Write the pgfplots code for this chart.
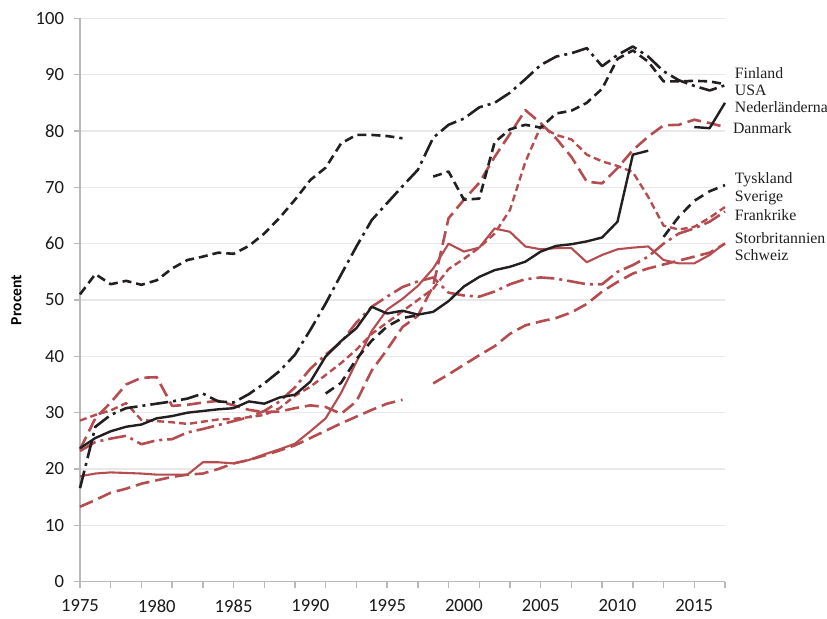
\documentclass[border=0pt]{standalone}
\usepackage{fontspec}
\setmainfont{Liberation Serif}
\newfontfamily\carlito{Carlito}
\usepackage{pgfplots}
\pgfplotsset{compat=1.18}
\definecolor{cblack}{RGB}{35,31,32}
\definecolor{cred}{RGB}{181,77,80}
\definecolor{gridc}{RGB}{232,232,232}
\definecolor{axc}{RGB}{185,185,185}
\begin{document}
\begin{tikzpicture}
\path[use as bounding box] (-40pt,-18.15pt) rectangle (373.5pt,290.85pt);
\begin{axis}[
  at={(0,0)}, anchor=south west,
  scale only axis, width=322.5pt, height=281.7pt,
  xmin=1975, xmax=2017, ymin=0, ymax=100,
  axis x line*=bottom, axis y line*=left,
  axis line style={draw=axc, line width=0.7pt},
  ytick={0,10,...,100}, ymajorgrids,
  grid style={draw=gridc, line width=0.7pt},
  xtick={1975,1977,...,2017}, xticklabels={},
  extra x ticks={1975,1980,...,2015},
  extra x tick labels={1975,1980,1985,1990,1995,2000,2005,2010,2015},
  extra x tick style={major tick length=0pt, grid=none},
  tick style={draw=axc, line width=0.7pt},
  major tick length=3pt, tick align=outside,
  tick label style={font=\carlito\fontsize{9.3}{10}\selectfont, text=black!90},
  xticklabel style={yshift=-5.5pt},
  yticklabel style={xshift=-1.5pt},
  /pgf/number format/assume math mode=true,
  /pgf/number format/1000 sep={},
  ylabel={Procent},
  ylabel style={font=\carlito\bfseries\fontsize{7.8}{9}\selectfont, at={(axis description cs:-0.0985,0.5)}, anchor=center},
  clip=false,
  unbounded coords=jump,
  every axis plot/.append style={line join=round, line cap=butt},
]
% Schweiz
\addplot[cred, line width=1.3pt, dash pattern=on 7pt off 3pt] coordinates {
(1975,13.3)(1976,14.5)(1977,15.8)(1978,16.5)(1979,17.4)(1980,18)(1981,18.6)(1982,19)(1983,19.2)(1984,20)
(1985,21)(1986,21.6)(1987,22.4)(1988,23.3)(1989,24.2)(1990,25.5)(1991,26.8)(1992,28.1)(1993,29.3)(1994,30.5)
(1995,31.6)(1996,32.3)(1997,nan)(1998,35.2)(1999,36.8)(2000,38.5)(2001,40.2)(2002,41.8)(2003,44)(2004,45.5)
(2005,46.2)(2006,46.8)(2007,47.8)(2008,49.3)(2009,51.5)(2010,53.2)(2011,54.7)(2012,55.6)(2013,56.3)(2014,57)
(2015,57.7)(2016,58.4)(2017,60)};
% Storbritannien
\addplot[cred, line width=1.05pt] coordinates {
(1975,18.7)(1976,19.2)(1977,19.4)(1978,19.3)(1979,19.2)(1980,19)(1981,19)(1982,19)(1983,21.2)(1984,21.2)
(1985,21)(1986,21.6)(1987,22.6)(1988,23.5)(1989,24.5)(1990,26.7)(1991,29)(1992,33.5)(1993,39)(1994,44.5)
(1995,48.3)(1996,50.2)(1997,52.5)(1998,55.6)(1999,60)(2000,58.6)(2001,59.3)(2002,62.7)(2003,62.1)(2004,59.5)
(2005,59)(2006,59.2)(2007,59.2)(2008,56.7)(2009,58)(2010,59)(2011,59.3)(2012,59.5)(2013,57.1)(2014,56.5)
(2015,56.5)(2016,58)(2017,60.1)};
% Frankrike
\addplot[cred, line width=1.3pt, dash pattern=on 9pt off 2.5pt on 1.5pt off 2.5pt] coordinates {
(1975,23.2)(1976,24.8)(1977,25.4)(1978,25.9)(1979,24.4)(1980,25.1)(1981,25.3)(1982,26.5)(1983,27.1)(1984,27.8)
(1985,28.5)(1986,29.2)(1987,30.3)(1988,32)(1989,34.5)(1990,37.8)(1991,40.3)(1992,42.5)(1993,46)(1994,48.8)
(1995,50.6)(1996,52.3)(1997,53.3)(1998,54)(1999,51.3)(2000,50.8)(2001,50.6)(2002,51.5)(2003,52.8)(2004,53.7)
(2005,54)(2006,53.8)(2007,53.3)(2008,52.8)(2009,52.8)(2010,55)(2011,56.2)(2012,57.7)(2013,60)(2014,61.8)
(2015,62.7)(2016,63.9)(2017,65.7)};
% Danmark
\addplot[cred, line width=1.3pt, dash pattern=on 7pt off 3pt] coordinates {
(1975,23.5)(1976,29)(1977,31.8)(1978,35)(1979,36.2)(1980,36.3)(1981,31.2)(1982,31.4)(1983,31.8)(1984,32.1)
(1985,31.3)(1986,30.5)(1987,30.1)(1988,30.2)(1989,30.8)(1990,31.3)(1991,31)(1992,29.8)(1993,32)(1994,37.5)
(1995,41.2)(1996,45.2)(1997,47.2)(1998,52.5)(1999,64.5)(2000,67.8)(2001,70.8)(2002,75.4)(2003,79.5)(2004,83.7)
(2005,81.4)(2006,78.7)(2007,75.4)(2008,71)(2009,70.7)(2010,73.4)(2011,76.6)(2012,79)(2013,81)(2014,81.1)
(2015,82)(2016,81.4)(2017,80.7)};
% Sverige
\addplot[cred, line width=1.2pt, dash pattern=on 3.5pt off 2pt] coordinates {
(1975,28.6)(1976,29.6)(1977,30.4)(1978,31.7)(1979,28.7)(1980,28.5)(1981,28.3)(1982,28)(1983,28.4)(1984,28.8)
(1985,28.9)(1986,29.2)(1987,29.6)(1988,30.8)(1989,33)(1990,34.6)(1991,36.7)(1992,38.8)(1993,41.2)(1994,44)
(1995,46)(1996,48)(1997,50)(1998,52)(1999,55.5)(2000,57.3)(2001,59.3)(2002,61.8)(2003,66)(2004,74.5)
(2005,80.8)(2006,79.3)(2007,78.5)(2008,75.8)(2009,74.6)(2010,73.8)(2011,72.7)(2012,68.3)(2013,63.2)(2014,62.5)
(2015,63)(2016,64.6)(2017,66.5)};
% Tyskland
\addplot[cblack, line width=1.3pt, dash pattern=on 5pt off 3pt] coordinates {
(1991,33.4)(1992,35.3)(1993,39.5)(1994,42.8)(1995,45.3)(1996,46.8)(1997,47.3)(1998,nan)
(2013,61.2)(2014,64.8)(2015,67.6)(2016,69.3)(2017,70.4)};
% Nederlanderna
\addplot[cblack, line width=1.2pt] coordinates {
(1975,23.7)(1976,25.5)(1977,26.7)(1978,27.5)(1979,27.9)(1980,29)(1981,29.4)(1982,30)(1983,30.3)(1984,30.6)
(1985,30.8)(1986,32)(1987,31.6)(1988,32.7)(1989,33.2)(1990,35.5)(1991,40)(1992,42.7)(1993,45)(1994,48.8)
(1995,47.6)(1996,48.1)(1997,47.4)(1998,47.9)(1999,49.8)(2000,52.4)(2001,54.1)(2002,55.3)(2003,55.9)(2004,56.8)
(2005,58.6)(2006,59.6)(2007,59.9)(2008,60.4)(2009,61.1)(2010,63.9)(2011,75.8)(2012,76.5)(2013,nan)(2014,nan)
(2015,80.7)(2016,80.5)(2017,85)};
% Finland (dash-dot)
\addplot[cblack, line width=1.3pt, dash pattern=on 9pt off 2.5pt on 1.5pt off 2.5pt] coordinates {
(1975,16.6)(1976,27.5)(1977,29.6)(1978,30.8)(1979,31.2)(1980,31.6)(1981,32)(1982,32.5)(1983,33.4)(1984,32)
(1985,31.8)(1986,33.3)(1987,35.2)(1988,37.4)(1989,40.3)(1990,44.7)(1991,49.4)(1992,54.5)(1993,59.5)(1994,64.2)
(1995,67.2)(1996,70.2)(1997,73.1)(1998,78.8)(1999,81.1)(2000,82.2)(2001,84.2)(2002,85)(2003,86.8)(2004,89.2)
(2005,91.7)(2006,93.2)(2007,93.8)(2008,94.7)(2009,91.5)(2010,93.5)(2011,95)(2012,93.2)(2013,90.6)(2014,89)
(2015,88)(2016,87.2)(2017,88.1)};
% USA (short dash)
\addplot[cblack, line width=1.3pt, dash pattern=on 4.5pt off 2.5pt] coordinates {
(1975,51)(1976,54.6)(1977,52.8)(1978,53.4)(1979,52.7)(1980,53.5)(1981,55.6)(1982,57.1)(1983,57.7)(1984,58.4)
(1985,58.2)(1986,59.6)(1987,61.8)(1988,64.6)(1989,67.8)(1990,71.3)(1991,73.5)(1992,77.8)(1993,79.3)(1994,79.3)
(1995,79.1)(1996,78.7)(1997,nan)(1998,71.9)(1999,72.8)(2000,67.8)(2001,68)(2002,78)(2003,80.3)(2004,81.1)
(2005,80.6)(2006,83.1)(2007,83.6)(2008,85)(2009,87.5)(2010,92.8)(2011,94.3)(2012,92.3)(2013,88.8)(2014,88.8)
(2015,88.9)(2016,88.8)(2017,88.3)};
\begin{scope}[every node/.style={anchor=west, inner sep=0pt, font=\fontsize{7.9}{9}\selectfont, text=black!88}]
\node at (axis cs:2017.62,90.3) {Finland};
\node at (axis cs:2017.62,87.2) {USA};
\node at (axis cs:2017.62,84.2) {Nederländerna};
\node at (axis cs:2017.5,80.5) {Danmark};
\node at (axis cs:2017.62,71.3) {Tyskland};
\node at (axis cs:2017.62,68.1) {Sverige};
\node at (axis cs:2017.62,65.0) {Frankrike};
\node at (axis cs:2017.62,61.0) {Storbritannien};
\node at (axis cs:2017.62,58.0) {Schweiz};
\end{scope}
\end{axis}
\end{tikzpicture}
\end{document}
